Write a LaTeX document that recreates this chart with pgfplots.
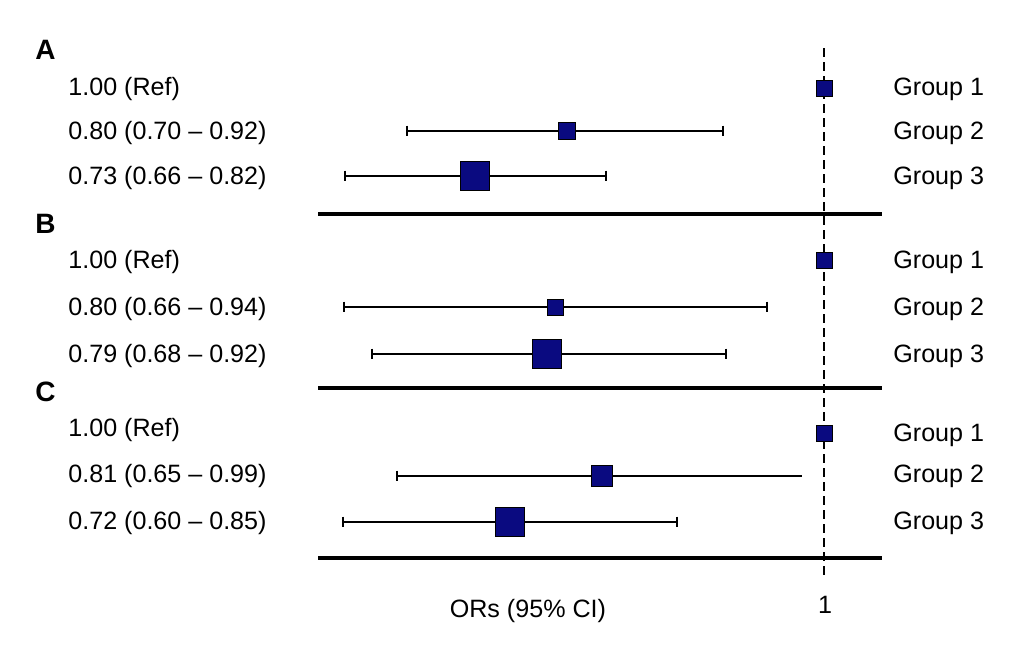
\documentclass[border=0pt]{standalone}
\usepackage{fontspec}
\setmainfont{Liberation Sans}
\usepackage{pgfplots}
\pgfplotsset{compat=1.18}
\definecolor{navy}{RGB}{10,10,128}
\begin{document}
\begin{tikzpicture}[
  lbl/.style={font=\fontsize{12.55}{14}\selectfont, inner sep=0pt, anchor=base west},
  hd/.style={font=\fontsize{14}{16}\selectfont\bfseries, inner sep=0pt, anchor=base west},
]
\begin{axis}[
  scale only axis, width=516.5pt, height=322.5pt,
  xmin=0.36124, xmax=1.16202, ymin=0, ymax=645, y dir=reverse,
  hide axis, clip=false,
]
\path[draw=none] (rel axis cs:0,0) rectangle (rel axis cs:1,1);
% reference line
\addplot[black, line width=1.2pt, dash pattern=on 4.5pt off 2.5pt] coordinates {(1,48) (1,577)};
% separators
\addplot[black, line width=1.8pt] coordinates {(0.6078,214) (1.0450,214)};
\addplot[black, line width=1.8pt] coordinates {(0.6078,388) (1.0450,388)};
\addplot[black, line width=1.8pt] coordinates {(0.6078,558) (1.0450,558)};
% confidence intervals
\pgfplotsset{ci/.style={black, line width=1.2pt, mark=|, mark size=2.7pt, mark options={line width=1.2pt}}}
\addplot[ci] coordinates {(0.6767,131) (0.9217,131)};
\addplot[ci] coordinates {(0.6287,176) (0.8310,176)};
\addplot[ci] coordinates {(0.6279,307) (0.9558,307)};
\addplot[ci] coordinates {(0.6496,354) (0.9240,354)};
\addplot[ci, mark indices={1}] coordinates {(0.6690,476) (0.9829,476)};
\addplot[ci] coordinates {(0.6271,522) (0.8860,522)};
% point estimates
\pgfplotsset{pe/.style={only marks, mark=square*, mark options={fill=navy, draw=black, line width=0.5pt}}}
\addplot[pe, mark size=4pt] coordinates {(1,88) (1,260) (1,433)};
\addplot[pe, mark size=4.2pt] coordinates {(0.8008,131)};
\addplot[pe, mark size=7.3pt] coordinates {(0.7295,176)};
\addplot[pe, mark size=4pt] coordinates {(0.7922,307)};
\addplot[pe, mark size=7.2pt] coordinates {(0.7853,354)};
\addplot[pe, mark size=5.2pt] coordinates {(0.8279,476)};
\addplot[pe, mark size=7.4pt] coordinates {(0.7566,522)};
% headings
\node[hd] at (axis cs:0.38837,59) {A};
\node[hd] at (axis cs:0.38837,233) {B};
\node[hd] at (axis cs:0.38837,401) {C};
% left labels
\node[lbl] at (axis cs:0.41395,95) {1.00 (Ref)};
\node[lbl] at (axis cs:0.41395,139) {0.80 (0.70 – 0.92)};
\node[lbl] at (axis cs:0.41395,184) {0.73 (0.66 – 0.82)};
\node[lbl] at (axis cs:0.41395,268) {1.00 (Ref)};
\node[lbl] at (axis cs:0.41395,315) {0.80 (0.66 – 0.94)};
\node[lbl] at (axis cs:0.41395,362) {0.79 (0.68 – 0.92)};
\node[lbl] at (axis cs:0.41395,436) {1.00 (Ref)};
\node[lbl] at (axis cs:0.41395,482) {0.81 (0.65 – 0.99)};
\node[lbl] at (axis cs:0.41395,529) {0.72 (0.60 – 0.85)};
% right labels
\node[lbl] at (axis cs:1.05349,95) {Group 1};
\node[lbl] at (axis cs:1.05349,139) {Group 2};
\node[lbl] at (axis cs:1.05349,184) {Group 3};
\node[lbl] at (axis cs:1.05349,268) {Group 1};
\node[lbl] at (axis cs:1.05349,315) {Group 2};
\node[lbl] at (axis cs:1.05349,362) {Group 3};
\node[lbl] at (axis cs:1.05349,441) {Group 1};
\node[lbl] at (axis cs:1.05349,482) {Group 2};
\node[lbl] at (axis cs:1.05349,529) {Group 3};
% bottom labels
\node[lbl, anchor=base] at (axis cs:0.7705,617) {ORs (95\% CI)};
\node[lbl, anchor=base] at (axis cs:1.0008,613) {1};
\end{axis}
\end{tikzpicture}
\end{document}
